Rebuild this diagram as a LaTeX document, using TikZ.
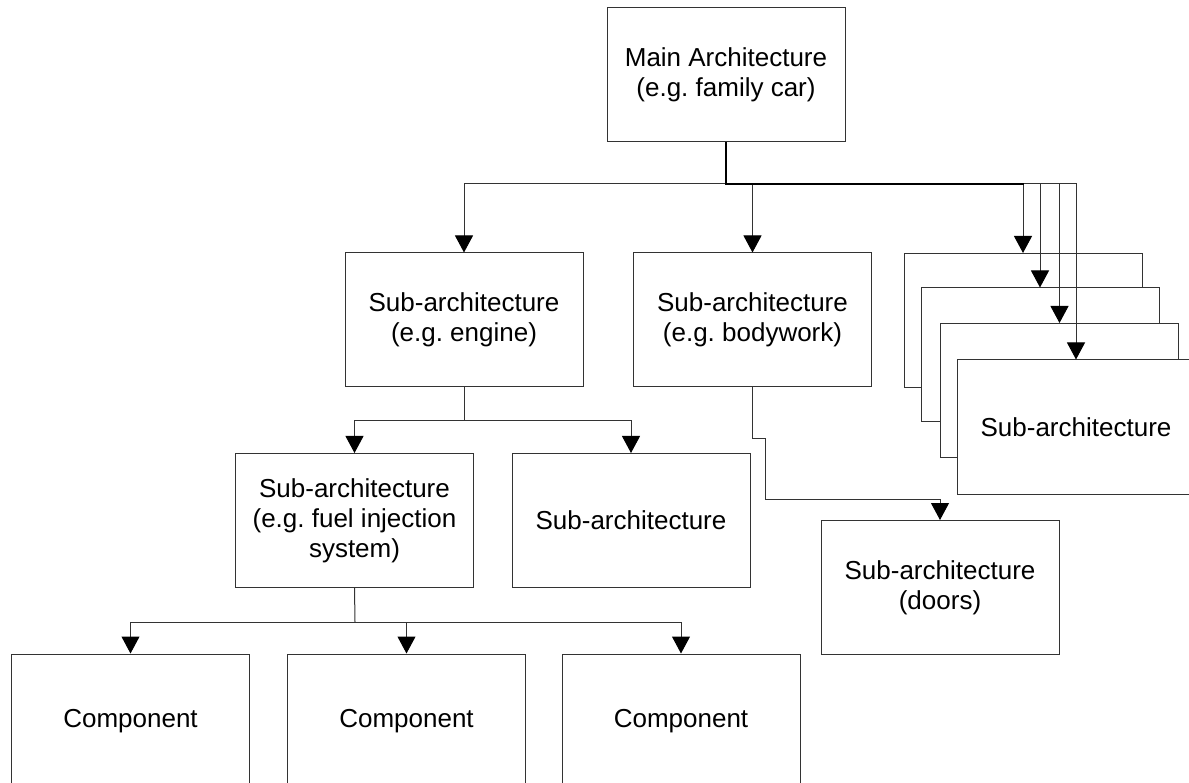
\documentclass[tikz,border=0pt]{standalone}
\usepackage{fontspec}
\setmainfont{Liberation Sans}
\frenchspacing
\usetikzlibrary{arrows.meta}
\begin{document}
\begin{tikzpicture}[x=1pt,y=-1pt,
  box/.style={draw=black!80, line width=1pt, fill=white, minimum width=238pt, minimum height=134pt,
    inner sep=0pt, align=center, font=\fontsize{26}{30}\selectfont\frenchspacing},
  conn/.style={draw=black!80, line width=1pt},
  thick conn/.style={draw=black, line width=2pt},
  arr/.style={conn, -{Triangle[width=18pt,length=17pt,color=black,fill=black]}}]
\useasboundingbox (0,0) rectangle (1189,783);
\fill[white] (0,0) rectangle (1189,783);
% nodes
\node[box] (main) at (726,75) {Main Architecture\\(e.g. family car)};
\node[box] (engine) at (464,320) {Sub-architecture\\(e.g. engine)};
\node[box] (body) at (752.5,320) {Sub-architecture\\(e.g. bodywork)};
\node[box] (sa) at (1023,320.5) {};
\node[box] (sb) at (1040,355) {};
\node[box] (sc) at (1059.5,390.5) {};
\node[box] (sd) at (1076,427) {Sub-architecture};
\node[box] (fuel) at (354.5,520.5) {Sub-architecture\\(e.g. fuel injection\\system)};
\node[box] (sub2) at (631,520.5) {Sub-architecture};
\node[box] (doors) at (940,587.5) {Sub-architecture\\(doors)};
\node[box] (c1) at (130.5,721) {Component};
\node[box] (c2) at (406.5,721) {Component};
\node[box] (c3) at (681,721) {Component};
% bus coordinates
\coordinate (mbus) at (726,184);
\coordinate (mbusend) at (1024,184);
\coordinate (ebus) at (464,421);
\coordinate (fbus) at (355,622);
\coordinate (bw2) at (765,439);
\coordinate (bw3) at (765,499);
% main connectors
\draw[arr] (mbus) -| (engine.north);
\draw[arr] (mbus) -| (body.north);
\draw[arr] (mbus) -| (sa.north);
\draw[arr] (mbus) -| (sb.north);
\draw[arr] (mbus) -| (sc.north);
\draw[arr] (mbus) -| (sd.north);
\draw[thick conn] (main.south) -- (mbus) -- (mbusend);
% engine connectors
\draw[conn] (engine.south) -- (ebus);
\draw[arr] (ebus) -| (fuel.north);
\draw[arr] (ebus) -| (sub2.north);
% fuel connectors
\draw[conn] (fuel.south) -- (fbus);
\draw[arr] (fbus) -| (c1.north);
\draw[arr] (fbus) -| (c2.north);
\draw[arr] (fbus) -| (c3.north);
% bodywork to doors
\draw[arr] (body.south) |- (bw2) -- (bw3) -| (doors.north);
\end{tikzpicture}
\end{document}
